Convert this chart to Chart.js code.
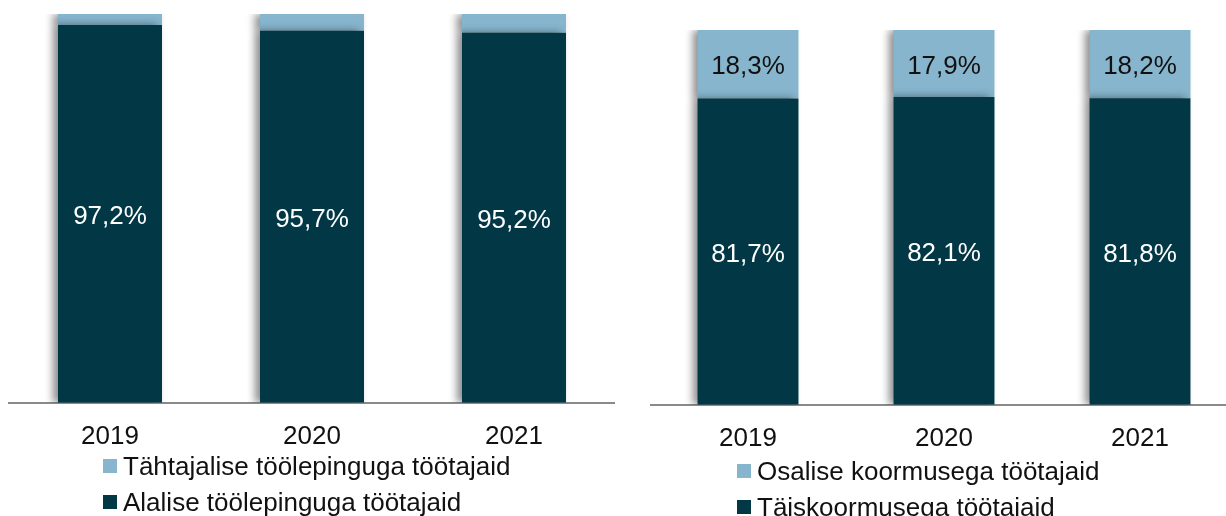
<!DOCTYPE html>
<html>
<head>
<meta charset="utf-8">
<script src="https://cdn.jsdelivr.net/npm/chart.js@4.4.1/dist/chart.umd.min.js"></script>
<style>
  html,body{margin:0;padding:0;background:#fff;width:1226px;height:516px;overflow:hidden;position:relative;font-family:"Liberation Sans",Arial,sans-serif;}
  .wrap{position:absolute;top:0;}
  .legend{position:absolute;font-size:26px;color:#111;}
  .legend div{position:absolute;white-space:nowrap;height:30px;line-height:30px;}
  .legend span.sw{display:inline-block;width:14px;height:14px;margin-right:6px;vertical-align:middle;position:relative;top:-2px;}
</style>
</head>
<body>
<div class="wrap" id="w1" style="left:0;width:615px;height:470px;"><canvas id="c1"></canvas></div>
<div class="wrap" id="w2" style="left:650px;width:588px;height:472px;"><canvas id="c2"></canvas></div>
<div class="legend" id="lg1" style="left:103px;top:451px;"></div>
<div class="legend" id="lg2" style="left:737px;top:456px;"></div>
<script>
// ---- data ----
const years = ["2019", "2020", "2021"];
const leftNames = ["Tähtajalise töölepinguga töötajaid", "Alalise töölepinguga töötajaid"];
const leftPermanent = [97.2, 95.7, 95.2];
const leftFixedTerm = [2.8, 4.3, 4.8];
const rightNames = ["Osalise koormusega töötajaid", "Täiskoormusega töötajaid"];
const rightFullTime = [81.7, 82.1, 81.8];
const rightPartTime = [18.3, 17.9, 18.2];

const DARK = "#023846";
const LIGHT = "#86B5CD";
const FONT = "'Liberation Sans', Arial, sans-serif";

const fmt = v => v.toFixed(1).replace(".", ",") + "%";

const shadowPlugin = {
  id: "barShadow",
  beforeDatasetsDraw(chart) {
    const ctx = chart.ctx;
    ctx.save();
    ctx.shadowColor = "rgba(0,0,0,0.45)";
    ctx.shadowBlur = 8;
    ctx.shadowOffsetX = -5;
    ctx.shadowOffsetY = 0;
  },
  afterDatasetsDraw(chart) {
    chart.ctx.restore();
  }
};

const labelPlugin = {
  id: "segLabels",
  afterDatasetsDraw(chart) {
    const ctx = chart.ctx;
    ctx.save();
    ctx.font = "26px " + FONT;
    ctx.textAlign = "center";
    ctx.textBaseline = "middle";
    chart.data.datasets.forEach((ds, di) => {
      if (!ds.showLabels) return;
      const meta = chart.getDatasetMeta(di);
      meta.data.forEach((el, i) => {
        ctx.fillStyle = ds.labelColor;
        ctx.fillText(fmt(ds.data[i]), el.x, (el.y + el.base) / 2 + 3);
      });
    });
    ctx.restore();
  }
};

function makeChart(id, bottomData, topData, names, topLabels, pad) {
  return new Chart(document.getElementById(id), {
    type: "bar",
    data: {
      labels: years,
      datasets: [
        { label: names[1], data: bottomData, backgroundColor: DARK, showLabels: true, labelColor: "#ffffff",
          barPercentage: 0.515, categoryPercentage: 1 },
        { label: names[0], data: topData, backgroundColor: LIGHT, showLabels: topLabels, labelColor: "#111111",
          barPercentage: 0.515, categoryPercentage: 1 }
      ]
    },
    options: {
      responsive: true,
      maintainAspectRatio: false,
      animation: false,
      layout: { padding: pad },
      plugins: { legend: { display: false }, tooltip: { enabled: false } },
      scales: {
        x: {
          stacked: true,
          grid: { display: false, drawTicks: false },
          border: { display: true, color: "#8a8a8a", width: 2 },
          ticks: { color: "#111", font: { size: 26, family: FONT }, padding: 18 }
        },
        y: { stacked: true, display: false, min: 0, max: 100 }
      }
    },
    plugins: [shadowPlugin, labelPlugin]
  });
}

makeChart("c1", leftPermanent, leftFixedTerm, leftNames, false, { left: 9, right: 0, top: 14, bottom: 0 });
makeChart("c2", rightFullTime, rightPartTime, rightNames, true, { left: 0, right: 0, top: 30, bottom: 0 });

function legend(id, names) {
  const el = document.getElementById(id);
  const cols = [LIGHT, DARK];
  names.forEach((n, i) => {
    const d = document.createElement("div");
    d.style.top = (i * 36) + "px";
    const sw = document.createElement("span");
    sw.className = "sw";
    sw.style.background = cols[i];
    d.appendChild(sw);
    d.appendChild(document.createTextNode(n));
    el.appendChild(d);
  });
}
legend("lg1", leftNames);
legend("lg2", rightNames);
</script>
</body>
</html>
